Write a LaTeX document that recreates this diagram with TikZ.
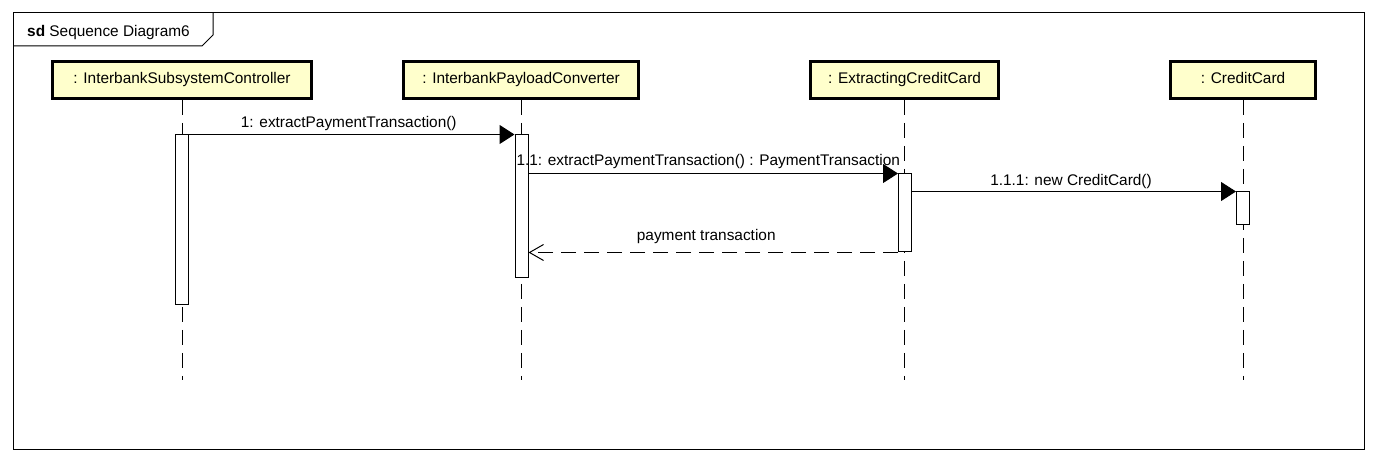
\documentclass[tikz,border=0pt]{standalone}
\usepackage{fontspec}
\setmainfont{Liberation Sans}
\usetikzlibrary{arrows.meta}
\definecolor{headfill}{RGB}{255,255,204}
\begin{document}
\begin{tikzpicture}[x=1pt,y=-1pt,
  font=\fontsize{15.4}{18}\selectfont,
  headbox/.style={draw, line width=3pt, fill=headfill, inner sep=0pt, text height=11pt, text depth=3pt},
  actbox/.style={draw, line width=1pt, fill=white, minimum width=13pt, inner sep=0pt},
  lifeline/.style={line width=1pt, dash pattern=on 15pt off 8pt},
  msg/.style={line width=1pt, -{Triangle[length=15pt,width=19pt]}},
  reply/.style={line width=1pt, dash pattern=on 15pt off 8pt, -{Straight Barb[length=14pt,width=16pt,line width=1pt]}},
  lbl/.style={inner sep=0pt, text depth=0pt}
]
\useasboundingbox (0,0) rectangle (1377,462);
% frame
\draw[line width=1pt] (13,13) rectangle (1364,449);
\draw[line width=1pt] (13,46) -- (202,46) -- (213,35) -- (213,13);
\node[lbl, anchor=base west] (title) at (27,37) {\textbf{sd} Sequence Diagram6};
% heads
\node[headbox, minimum width=259pt, minimum height=37pt] (h1) at (182,80) {: InterbankSubsystemController};
\node[headbox, minimum width=235pt, minimum height=37pt] (h2) at (521,80) {: InterbankPayloadConverter};
\node[headbox, minimum width=188pt, minimum height=37pt] (h3) at (904.5,80) {: ExtractingCreditCard};
\node[headbox, minimum width=145pt, minimum height=37pt] (h4) at (1243,80) {: CreditCard};
% lifeline ends
\coordinate (e1) at (182,380);
\coordinate (e2) at (521,380);
\coordinate (e3) at (904.5,380);
\coordinate (e4) at (1243,380);
\draw[lifeline] (h1.south) -- (e1);
\draw[lifeline] (h2.south) -- (e2);
\draw[lifeline] (h3.south) -- (e3);
\draw[lifeline] (h4.south) -- (e4);
% activations
\node[actbox, minimum height=170pt] (a1) at (182,220) {};
\node[actbox, minimum height=143pt] (a2) at (521.5,206.5) {};
\node[actbox, minimum height=78pt] (a3) at (905,213) {};
\node[actbox, minimum height=33pt] (a4) at (1243,208.5) {};
% messages
\draw[msg] (a1.north east) -- node[lbl, above=6pt, xshift=-3pt] (l1) {1: extractPaymentTransaction()} (a2.north west);
\draw[msg] (a2.east |- a3.north) -- node[lbl, above=7pt, xshift=-5pt] (l2) {1.1: extractPaymentTransaction() : PaymentTransaction} (a3.north west);
\draw[msg] (a3.east |- a4.north) -- node[lbl, above=5pt, xshift=-3pt] (l3) {1.1.1: new CreditCard()} (a4.north west);
\draw[reply] (a3.south west) -- node[lbl, above=11pt, xshift=-7pt] (l4) {payment transaction} (a2.east |- a3.south);
\end{tikzpicture}
\end{document}
